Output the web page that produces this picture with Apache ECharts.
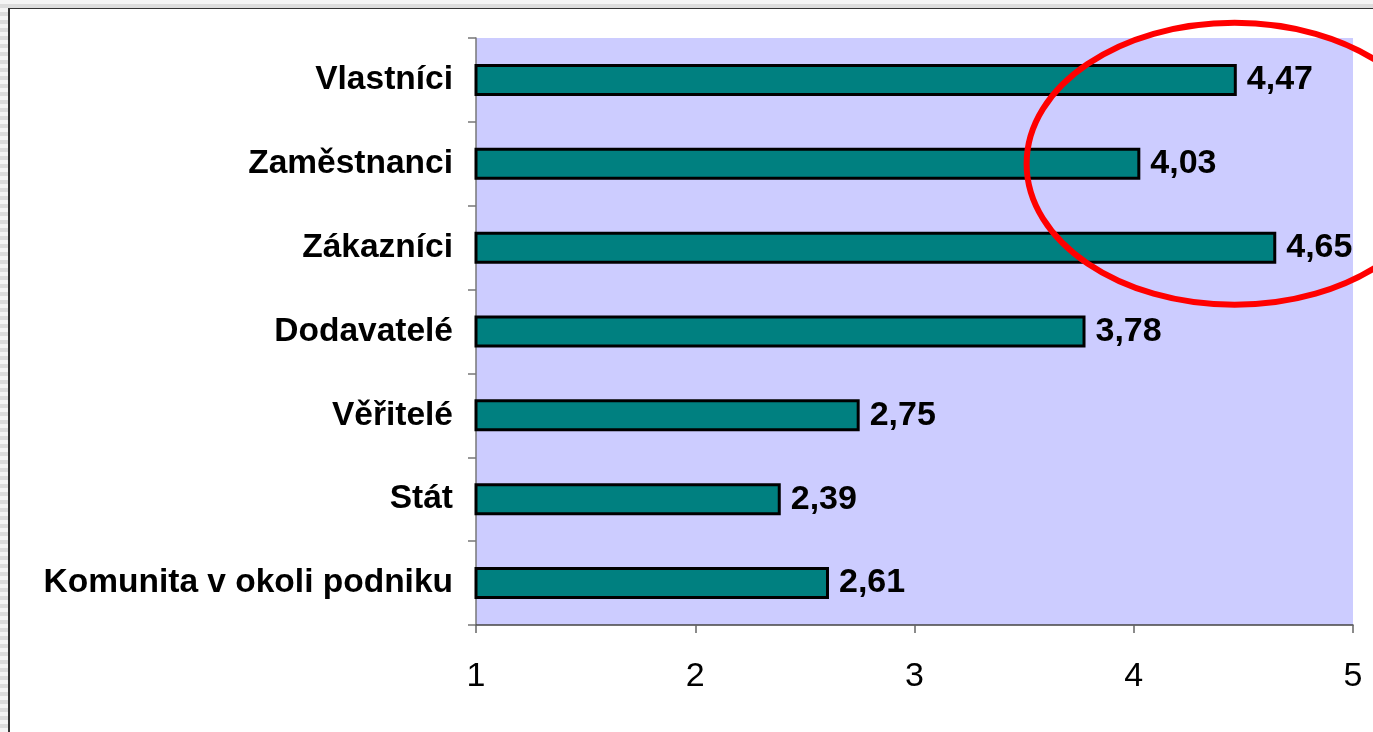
<!DOCTYPE html>
<html>
<head>
<meta charset="utf-8">
<script src="https://cdn.jsdelivr.net/npm/echarts@6/dist/echarts.min.js"></script>
<style>
  html, body { margin: 0; padding: 0; width: 1373px; height: 732px; overflow: hidden; }
  body {
    background: repeating-linear-gradient(180deg, #f4f4f4 0px, #f4f4f4 4px, #dcdcdc 4px, #dcdcdc 8px);
  }
  #frame {
    position: absolute; left: 8px; top: 8px; right: 0; bottom: 0;
    background: #fff;
    border-left: 2px solid #333;
    border-top: 1px solid #333;
  }
  #chart { width: 1363px; height: 723px; }
</style>
</head>
<body>
<div id="frame"><div id="chart"></div></div>
<script>
const categories = ["Vlastníci", "Zaměstnanci", "Zákazníci", "Dodavatelé", "Věřitelé", "Stát", "Komunita v okoli podniku"];
const values = [4.47, 4.03, 4.65, 3.78, 2.75, 2.39, 2.61];
const xTicks = [1, 2, 3, 4, 5];

const font = "'Liberation Sans', Arial, sans-serif";
const myChart = echarts.init(document.getElementById("chart"));

const option = {
  animation: false,
  grid: {
    left: 466,
    right: 20,
    top: 29,
    bottom: 107,
    show: true,
    backgroundColor: "#CCCCFF",
    borderWidth: 0,
  },
  xAxis: {
    type: "value",
    min: xTicks[0],
    max: xTicks[xTicks.length - 1],
    interval: 1,
    splitLine: { show: false },
    axisLine: { show: true, lineStyle: { color: "#444", width: 1.5 } },
    axisTick: { show: true, length: 8, lineStyle: { color: "#666", width: 1.5 } },
    axisLabel: { color: "#000", fontSize: 34, fontFamily: font, margin: 35 },
  },
  yAxis: {
    type: "category",
    data: categories,
    inverse: true,
    axisLine: { show: true, lineStyle: { color: "#777", width: 1.5 } },
    axisTick: { show: true, length: 8, lineStyle: { color: "#777", width: 1.5 } },
    axisLabel: { color: "#000", fontSize: 33.5, fontWeight: "bold", fontFamily: font, margin: 23 },
  },
  series: [
    {
      type: "bar",
      data: values,
      barWidth: 32,
      itemStyle: { color: "#008080", borderColor: "#000", borderWidth: 3 },
      label: {
        show: true,
        position: "right",
        distance: 10,
        color: "#000",
        fontSize: 34,
        fontWeight: "bold",
        fontFamily: font,
        formatter: (p) => p.value.toFixed(2).replace(".", ","),
      },
    },
  ],
};
myChart.setOption(option);

// red ellipse marking the top three groups
const c = myChart.convertToPixel({ gridIndex: 0 }, [4.46, 1]);
myChart.setOption({
  graphic: [
    {
      type: "ellipse",
      shape: { cx: c[0], cy: c[1], rx: 208, ry: 141 },
      style: { fill: "none", stroke: "#FF0000", lineWidth: 6 },
      z: 100,
    },
  ],
});
</script>
</body>
</html>
